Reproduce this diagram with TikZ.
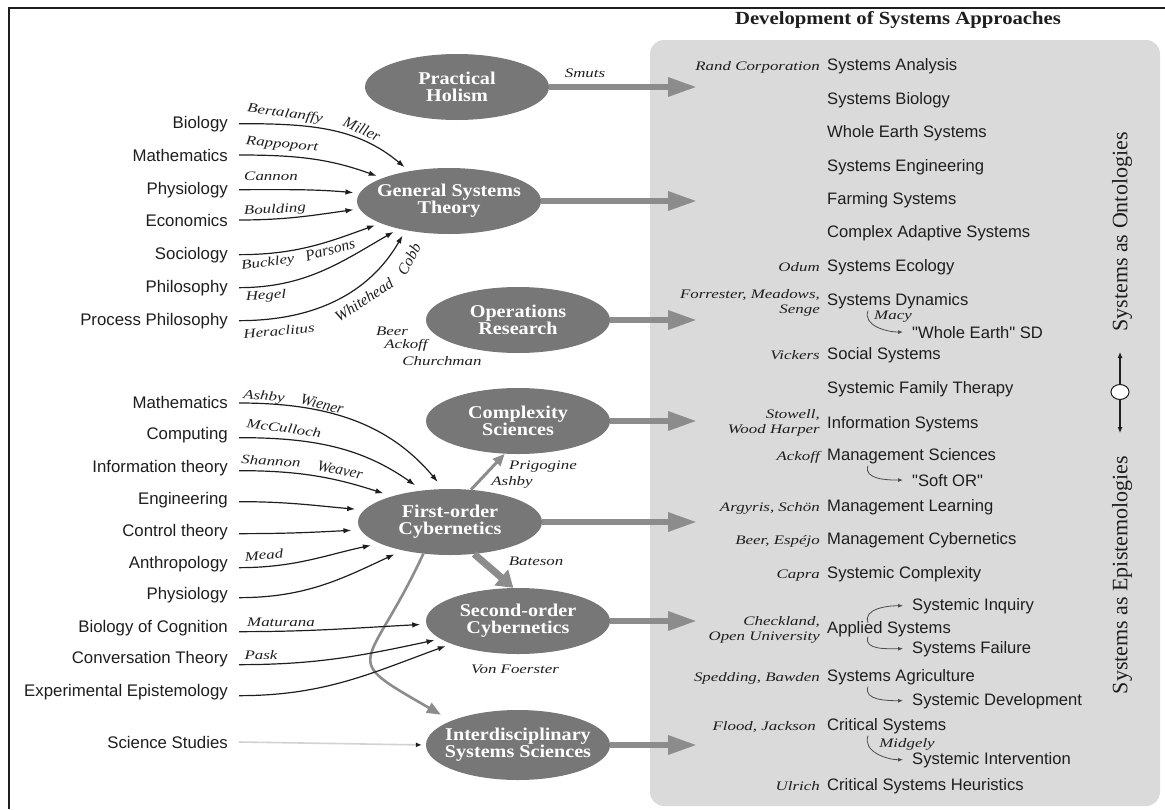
\documentclass[tikz,border=0pt]{standalone}
\usepackage{fontspec}
\setmainfont{Liberation Serif}
\newfontfamily\sansf{Liberation Sans}
\newfontfamily\authf[FakeStretch=1.3]{Liberation Serif}
\newfontfamily\ellf[FakeStretch=1.12]{Liberation Serif}
\usetikzlibrary{arrows.meta,shapes.geometric}
\definecolor{ellgray}{HTML}{777777}
\definecolor{argray}{HTML}{8C8C8C}
\definecolor{boxgray}{HTML}{DADADA}
\definecolor{ink}{HTML}{1E1E1E}
\tikzset{
  lab/.style={font=\sansf\fontsize{16.8}{19}\selectfont, text=ink, anchor=base east, inner xsep=11pt, inner ysep=2pt},
  item/.style={font=\sansf\fontsize{16.6}{19}\selectfont, text=ink, anchor=base west, inner xsep=0pt, inner ysep=2pt},
  subitem/.style={item, inner xsep=9pt},
  who/.style={font=\authf\itshape\fontsize{13}{15}\selectfont, text=ink, inner sep=0pt},
  whor/.style={font=\itshape\fontsize{15.5}{17}\selectfont, text=ink, inner sep=0pt},
  auth/.style={who, anchor=base east},
  auth2/.style={who, anchor=east, align=right},
  ell/.style={ellipse, fill=ellgray, minimum width=184pt, minimum height=66pt, inner sep=0pt},
  elltxt/.style={font=\ellf\bfseries\fontsize{18}{17}\selectfont, text=white, align=center, inner sep=0pt},
  conn/.style={draw=ink, line width=1.2pt, shorten >=6pt, -{Latex[length=8pt,width=5.5pt]}},
  connb/.style={conn, shorten >=9pt},
  bigarr/.style={draw=argray, line width=6pt, -{Triangle[length=29pt,width=18pt]}},
  subarr/.style={draw=ink!80, line width=0.8pt, -{Latex[length=5pt,width=4pt]}},
}
\begin{document}
\begin{tikzpicture}[x=1pt,y=1pt]
\useasboundingbox (0,0) rectangle (1165,-809);
% frame and box
\draw[ink, line width=1.6pt] (9,-809) -- (9,-8) -- (1165,-8);
\fill[boxgray, rounded corners=14pt] (650,-40) rectangle (1160,-806);
\node[font=\ellf\bfseries\fontsize{18.5}{20}\selectfont, text=ink] (title) at (898,-20) {Development of Systems Approaches};

% ellipses
\node[ell] (ph) at (457,-87) {};
\node[ell] (gst) at (449,-201) {};
\node[ell] (or) at (518,-320) {};
\node[ell] (cx) at (518,-421) {};
\node[ell] (foc) at (450,-522) {};
\node[ell] (soc) at (518,-621) {};
\node[ell, minimum height=70pt] (iss) at (518,-745) {};
\node[elltxt] (phx) at (ph) {Practical\\Holism};
\node[elltxt] (gstx) at (gst) {General Systems\\Theory};
\node[elltxt] (orx) at (or) {Operations\\Research};
\node[elltxt] (cxx) at (cx) {Complexity\\Sciences};
\node[elltxt] (focx) at (foc) {First-order\\Cybernetics};
\node[elltxt] (socx) at (soc) {Second-order\\Cybernetics};
\node[elltxt] (issx) at (iss) {Interdisciplinary\\Systems Sciences};

% big arrows into box
\coordinate (phE) at (697,-87);
\coordinate (gstE) at (697,-201);
\coordinate (orE) at (697,-320);
\coordinate (cxE) at (697,-421);
\coordinate (focE) at (697,-522);
\coordinate (socE) at (697,-621);
\coordinate (issE) at (697,-745);
\draw[bigarr] (ph.east) -- (phE);
\draw[bigarr] (gst.east) -- (gstE);
\draw[bigarr] (or.east) -- (orE);
\draw[bigarr] (cx.east) -- (cxE);
\draw[bigarr] (foc.east) -- (focE);
\draw[bigarr] (soc.east) -- (socE);
\draw[bigarr] (iss.east) -- (issE);
\node[who] (smuts) at (585,-73) {Smuts};

% inner gray arrows
\draw[draw=argray, line width=3pt, -{Triangle[length=12pt,width=10pt]}] (foc.57) -- (cx.248);
\draw[draw=argray, line width=7pt, -{Triangle[length=16pt,width=20pt]}] (foc.307) -- (soc.98);
\draw[draw=argray, line width=2.6pt, shorten >=12pt, -{Triangle[length=14pt,width=11pt]}] (foc.230) to[out=245,in=150,looseness=2] (iss.160);
\node[who] (prig) at (543,-467) {Prigogine};
\node[who] (ashby2) at (512,-482) {Ashby};
\node[who] (bateson) at (536,-561) {Bateson};
\node[who] (vonf) at (515,-669) {Von Foerster};
\node[who] (beer) at (392,-331) {Beer};
\node[who] (ackoff) at (406,-345) {Ackoff};
\node[who] (church) at (442,-361) {Churchman};

% upper left labels
\node[lab] (l1) at (239,-128) {Biology};
\node[lab] (l2) at (239,-161) {Mathematics};
\node[lab] (l3) at (239,-194) {Physiology};
\node[lab] (l4) at (239,-226) {Economics};
\node[lab] (l5) at (239,-259) {Sociology};
\node[lab] (l6) at (239,-292) {Philosophy};
\node[lab] (l7) at (239,-325) {Process Philosophy};
\draw[conn] (l1.east) to[out=0,in=140] (gst.143);
\draw[conn] (l2.east) to[out=0,in=160] (gst.161);
\draw[conn] (l3.east) to[out=0,in=175] (gst.175);
\draw[conn] (l4.east) to[out=0,in=188] (gst.185);
\draw[conn] (l5.east) to[out=0,in=200] (gst.198);
\draw[conn] (l6.east) to[out=0,in=210] (gst.209);
\draw[conn] (l7.east) to[out=0,in=240] (gst.214);
\node[who, rotate=-8] (bert) at (285,-114) {Bertalanffy};
\node[whor, rotate=-25] (miller) at (362,-129) {Miller};
\node[who, rotate=-5] (rapp) at (282,-145) {Rappoport};
\node[who] (cannon) at (271,-176) {Cannon};
\node[who, rotate=3] (bould) at (275,-210) {Boulding};
\node[who, rotate=8] (buck) at (268,-263) {Buckley};
\node[whor, rotate=15] (pars) at (330,-250) {Parsons};
\node[who, rotate=3] (hegel) at (266,-296) {Hegel};
\node[who, rotate=5] (hera) at (279,-331) {Heraclitus};
\node[whor, rotate=33] (white) at (364,-300) {Whitehead};
\node[whor, rotate=62] (cobb) at (409,-259) {Cobb};

% lower left labels
\node[lab] (m1) at (239,-408) {Mathematics};
\node[lab] (m2) at (239,-439) {Computing};
\node[lab] (m3) at (239,-472) {Information theory};
\node[lab] (m4) at (239,-504) {Engineering};
\node[lab] (m5) at (239,-536) {Control theory};
\node[lab] (m6) at (239,-568) {Anthropology};
\node[lab] (m7) at (239,-599) {Physiology};
\node[lab] (m8) at (239,-632) {Biology of Cognition};
\node[lab] (m9) at (239,-663) {Conversation Theory};
\node[lab] (m10) at (239,-696) {Experimental Epistemology};
\node[lab] (m11) at (239,-748) {Science Studies};
\draw[connb] ([yshift=-1pt]m1.east) to[out=0,in=130] (foc.101);
\draw[connb] ([yshift=-3pt]m2.east) to[out=0,in=145] (foc.131);
\draw[connb] ([yshift=-3pt]m3.east) to[out=0,in=162] (foc.156);
\draw[connb] ([yshift=-2pt]m4.east) to[out=0,in=175] (foc.172);
\draw[connb] ([yshift=-2pt]m5.east) to[out=0,in=183] (foc.185);
\draw[connb] ([yshift=-4pt]m6.east) to[out=0,in=192] (foc.197);
\draw[connb] ([yshift=-3pt]m7.east) to[out=0,in=205] (foc.211);
\draw[conn] ([yshift=-4pt]m8.east) to[out=0,in=183] (soc.182);
\draw[conn] ([yshift=-6pt]m9.east) to[out=0,in=192] (soc.193);
\draw[conn] ([yshift=-4pt]m10.east) to[out=0,in=200] (soc.199);
\draw[draw=ink!20, line width=1.6pt, shorten >=4pt, -{Latex[length=6pt,width=5pt,ink]}] (m11.east) -- (iss.west);
\node[who, rotate=-5] (ashby1) at (264,-397) {Ashby};
\node[whor, rotate=-15] (wiener) at (322,-404) {Wiener};
\node[who, rotate=-8] (mcc) at (284,-428) {McCulloch};
\node[who, rotate=-3] (shan) at (271,-461) {Shannon};
\node[whor, rotate=-12] (weav) at (340,-470) {Weaver};
\node[who, rotate=5] (mead) at (264,-555) {Mead};
\node[who] (matu) at (281,-622) {Maturana};
\node[who] (pask) at (261,-655) {Pask};

% right column items
\node[item] (sa) at (827,-70) {Systems Analysis};
\node[item] (sb) at (827,-104) {Systems Biology};
\node[item] (wes) at (827,-137) {Whole Earth Systems};
\node[item] (se) at (827,-171) {Systems Engineering};
\node[item] (fs) at (827,-204) {Farming Systems};
\node[item] (cas) at (827,-237) {Complex Adaptive Systems};
\node[item] (sec) at (827,-271) {Systems Ecology};
\node[item] (sd) at (827,-305) {Systems Dynamics};
\node[subitem] (wesd) at (903,-338) {"Whole Earth" SD};
\node[item] (ss) at (827,-359) {Social Systems};
\node[item] (sft) at (827,-393) {Systemic Family Therapy};
\node[item] (is) at (827,-428) {Information Systems};
\node[item] (ms) at (827,-460) {Management Sciences};
\node[subitem] (sor) at (903,-486) {"Soft OR"};
\node[item] (ml) at (827,-511) {Management Learning};
\node[item] (mc) at (827,-544) {Management Cybernetics};
\node[item] (sc) at (827,-578) {Systemic Complexity};
\node[subitem] (si) at (903,-610) {Systemic Inquiry};
\node[item] (as) at (827,-633) {Applied Systems};
\node[subitem] (sf) at (903,-653) {Systems Failure};
\node[item] (sag) at (827,-681) {Systems Agriculture};
\node[subitem] (sdev) at (903,-705) {Systemic Development};
\node[item] (cs) at (827,-730) {Critical Systems};
\node[subitem] (sint) at (903,-764) {Systemic Intervention};
\node[item] (csh) at (827,-790) {Critical Systems Heuristics};

% authors
\node[auth] (a1) at (820,-70) {Rand Corporation};
\node[auth] (a2) at (820,-271) {Odum};
\node[auth2] (a3) at (820,-303) {Forrester, Meadows,\\Senge};
\node[auth] (a4) at (820,-359) {Vickers};
\node[auth2] (a5) at (820,-423) {Stowell,\\Wood Harper};
\node[auth] (a6) at (820,-460) {Ackoff};
\node[auth] (a7) at (820,-511) {Argyris, Schön};
\node[auth] (a8) at (820,-544) {Beer, Espéjo};
\node[auth] (a9) at (820,-578) {Capra};
\node[auth2] (a10) at (820,-630) {Checkland,\\Open University};
\node[auth] (a11) at (820,-681) {Spedding, Bawden};
\node[auth] (a12) at (816,-730) {Flood, Jackson};
\node[auth] (a13) at (820,-790) {Ulrich};
\node[who] (macy) at (893,-317) {Macy};
\node[who] (midg) at (907,-744) {Midgely};

% small sub-arrows
\draw[subarr] ([xshift=41pt]sd.south west) to[out=250,in=180] (wesd.west);
\draw[subarr] ([xshift=41pt]ms.south west) to[out=250,in=180] (sor.west);
\draw[subarr] ([xshift=41pt,yshift=-4pt]as.north west) to[out=110,in=180] (si.west);
\draw[subarr] ([xshift=41pt,yshift=2pt]as.south west) to[out=250,in=180] (sf.west);
\draw[subarr] ([xshift=41pt]sag.south west) to[out=250,in=180] (sdev.west);
\draw[subarr] ([xshift=41pt]cs.south west) to[out=250,in=180] (sint.west);

% right side axis
\node[rotate=90, font=\fontsize{22}{24}\selectfont, text=ink] (onto) at (1122,-232) {Systems as Ontologies};
\node[rotate=90, font=\fontsize{22}{24}\selectfont, text=ink] (epis) at (1122,-575) {Systems as Epistemologies};
\node[ellipse, draw=ink, fill=white, line width=1pt, minimum width=18pt, minimum height=15pt, inner sep=0pt] (pivot) at (1120,-392) {};
\coordinate (axup) at (1120,-352);
\coordinate (axdn) at (1120,-433);
\draw[ink, line width=1.1pt, -{Latex[length=6pt,width=5pt]}] (pivot) -- (axup);
\draw[ink, line width=1.1pt, -{Latex[length=6pt,width=5pt]}] (pivot) -- (axdn);
\end{tikzpicture}
\end{document}
